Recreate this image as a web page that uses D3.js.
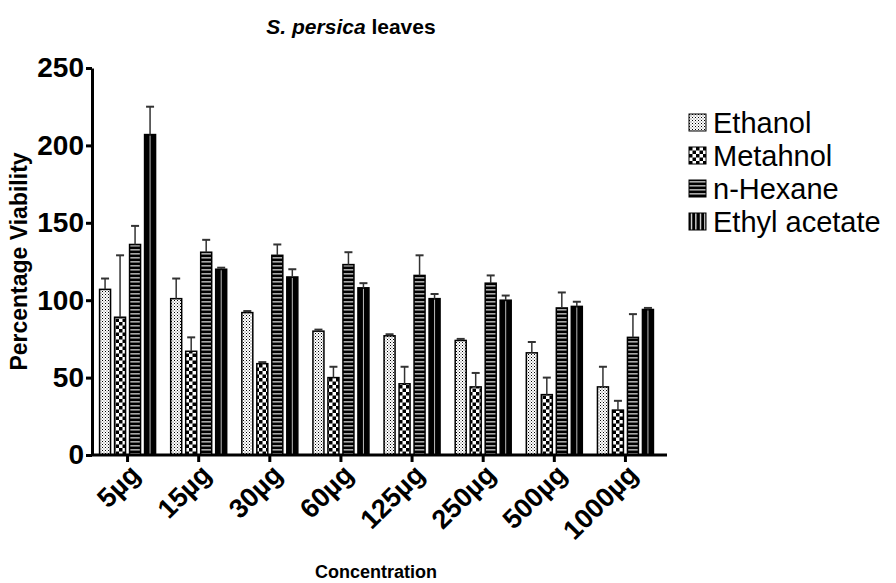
<!DOCTYPE html>
<html>
<head>
<meta charset="utf-8">
<script src="https://cdn.jsdelivr.net/npm/d3@7"></script>
<style>
  body { margin: 0; background: #fff; }
  text { font-family: "Liberation Sans", Arial, sans-serif; }
</style>
</head>
<body>
<svg id="viz" width="896" height="583"></svg>
<script>
const concentrations = ["5µg", "15µg", "30µg", "60µg", "125µg", "250µg", "500µg", "1000µg"];
const series = ["Ethanol", "Metahnol", "n-Hexane", "Ethyl acetate"];

// mean values per series (same order as concentrations)
const ethanol = [107, 101, 92, 80, 77, 74, 66, 44];
const metahnol = [89, 67, 59, 50, 46, 44, 39, 29];
const hexane = [136, 131, 129, 123, 116, 111, 95, 76];
const ethylAcetate = [207, 120, 115, 108, 101, 100, 96, 94];

// error (SD) above each bar
const ethanolErr = [7, 13, 1, 1, 1, 1, 7, 13];
const metahnolErr = [40, 9, 1, 7, 11, 9, 11, 6];
const hexaneErr = [12, 8, 7, 8, 13, 5, 10, 15];
const ethylAcetateErr = [18, 1, 5, 3, 3, 3, 3, 1];

const yTicks = [0, 50, 100, 150, 200, 250];

const values = [ethanol, metahnol, hexane, ethylAcetate];
const errors = [ethanolErr, metahnolErr, hexaneErr, ethylAcetateErr];

const rows = [];
concentrations.forEach((c, i) => {
  series.forEach((s, j) => {
    rows.push({ conc: c, series: s, si: j, value: values[j][i], err: errors[j][i] });
  });
});

const svg = d3.select("#viz");

// fill patterns
const defs = svg.append("defs");

const pDots = defs.append("pattern").attr("id", "p0").attr("patternUnits", "userSpaceOnUse")
  .attr("width", 3).attr("height", 3);
pDots.append("rect").attr("width", 3).attr("height", 3).attr("fill", "#fff");
pDots.append("rect").attr("x", 0).attr("y", 0).attr("width", 1).attr("height", 1).attr("fill", "#000");
pDots.append("rect").attr("x", 1.5).attr("y", 1.5).attr("width", 1).attr("height", 1).attr("fill", "#555");

const pCheck = defs.append("pattern").attr("id", "p1").attr("patternUnits", "userSpaceOnUse")
  .attr("width", 7).attr("height", 7);
pCheck.append("rect").attr("width", 7).attr("height", 7).attr("fill", "#fff");
pCheck.append("rect").attr("x", 0).attr("y", 0).attr("width", 3.5).attr("height", 3.5).attr("fill", "#000");
pCheck.append("rect").attr("x", 3.5).attr("y", 3.5).attr("width", 3.5).attr("height", 3.5).attr("fill", "#000");

const pHoriz = defs.append("pattern").attr("id", "p2").attr("patternUnits", "userSpaceOnUse")
  .attr("width", 4).attr("height", 4);
pHoriz.append("rect").attr("width", 4).attr("height", 4).attr("fill", "#000");
pHoriz.append("rect").attr("y", 1).attr("width", 4).attr("height", 1.6).attr("fill", "#a8a8a8");

const pVert = defs.append("pattern").attr("id", "p3").attr("patternUnits", "userSpaceOnUse")
  .attr("width", 4.5).attr("height", 4);
pVert.append("rect").attr("width", 4.5).attr("height", 4).attr("fill", "#000");
pVert.append("rect").attr("x", 1.8).attr("width", 1.2).attr("height", 4).attr("fill", "#fff");

const x = d3.scaleBand().domain(concentrations).range([92, 661]).paddingInner(0).paddingOuter(0);
const xSub = d3.scaleBand().domain(series).range([0, 56]).paddingInner(4 / 15).paddingOuter(0);
const y = d3.scaleLinear().domain([0, 250]).range([455, 68]);

const groupStart = c => x(c) + x.bandwidth() / 2 - 28;

// bars
const bars = svg.append("g");
bars.selectAll("rect.bar")
  .data(rows)
  .enter()
  .append("rect")
  .attr("class", "bar")
  .attr("x", d => groupStart(d.conc) + xSub(d.series))
  .attr("y", d => y(d.value))
  .attr("width", xSub.bandwidth())
  .attr("height", d => y(0) - y(d.value))
  .attr("fill", d => d.si === 3 ? "#000" : `url(#p${d.si})`)
  .attr("stroke", "#000")
  .attr("stroke-width", 1.5);

// thin light line down the middle of the ethyl acetate bars
bars.selectAll("line.mid")
  .data(rows.filter(d => d.si === 3))
  .enter()
  .append("line")
  .attr("class", "mid")
  .attr("x1", d => groupStart(d.conc) + xSub(d.series) + xSub.bandwidth() / 2)
  .attr("x2", d => groupStart(d.conc) + xSub(d.series) + xSub.bandwidth() / 2)
  .attr("y1", d => y(d.value) + 1)
  .attr("y2", y(0))
  .attr("stroke", "#bbb")
  .attr("stroke-width", 1);

// error bars (upper only)
const errG = svg.append("g").attr("stroke", "#333").attr("stroke-width", 1.5);
errG.selectAll("line.err")
  .data(rows)
  .enter()
  .append("line")
  .attr("x1", d => groupStart(d.conc) + xSub(d.series) + xSub.bandwidth() / 2)
  .attr("x2", d => groupStart(d.conc) + xSub(d.series) + xSub.bandwidth() / 2)
  .attr("y1", d => y(d.value))
  .attr("y2", d => y(d.value + d.err));
errG.selectAll("line.cap")
  .data(rows)
  .enter()
  .append("line")
  .attr("x1", d => groupStart(d.conc) + xSub(d.series) + xSub.bandwidth() / 2 - 4)
  .attr("x2", d => groupStart(d.conc) + xSub(d.series) + xSub.bandwidth() / 2 + 4)
  .attr("y1", d => y(d.value + d.err))
  .attr("y2", d => y(d.value + d.err))
  .attr("stroke-width", 2);

// y axis
const yAxis = svg.append("g")
  .attr("transform", `translate(${x.range()[0]},0)`)
  .call(d3.axisLeft(y).tickValues(yTicks).tickSize(6).tickSizeOuter(0).tickPadding(2));
yAxis.select(".domain").attr("stroke-width", 3);
yAxis.selectAll(".tick line").attr("stroke-width", 3);
yAxis.selectAll(".tick text")
  .attr("font-size", 28).attr("font-weight", "bold").attr("fill", "#000")
  .style("font-family", "'Liberation Sans', Arial, sans-serif");

// x axis
const xAxis = svg.append("g")
  .attr("transform", `translate(0,${y(0)})`)
  .call(d3.axisBottom(x).tickSize(7).tickSizeOuter(0).tickFormat(""));
xAxis.select(".domain").attr("d", `M${x.range()[0]},0H${x.range()[1] + 6}`).attr("stroke-width", 3);
xAxis.selectAll(".tick line").attr("stroke-width", 3);

svg.append("g").selectAll("text")
  .data(concentrations)
  .enter()
  .append("text")
  .attr("transform", d => `translate(${x(d) + x.bandwidth() / 2 + 14},${y(0) + 21}) rotate(-45)`)
  .attr("text-anchor", "end")
  .attr("font-size", 27)
  .attr("font-weight", "bold")
  .text(d => d);

// axis titles
svg.append("text")
  .attr("transform", `translate(27,${(y(0) + y(250)) / 2}) rotate(-90)`)
  .attr("text-anchor", "middle")
  .attr("font-size", 23)
  .attr("font-weight", "bold")
  .text("Percentage Viability");

svg.append("text")
  .attr("x", 376)
  .attr("y", 578)
  .attr("text-anchor", "middle")
  .attr("font-size", 18)
  .attr("font-weight", "bold")
  .text("Concentration");

const title = svg.append("text")
  .attr("x", 351)
  .attr("y", 34)
  .attr("text-anchor", "middle")
  .attr("font-size", 21)
  .attr("font-weight", "bold");
title.append("tspan").attr("font-style", "italic").text("S. persica");
title.append("tspan").text(" leaves");

// legend
const legend = svg.append("g").attr("transform", "translate(689,114)");
const li = legend.selectAll("g")
  .data(series)
  .enter()
  .append("g")
  .attr("transform", (d, i) => `translate(0,${i * 33})`);
li.append("rect")
  .attr("width", 17).attr("height", 17)
  .attr("fill", (d, i) => `url(#p${i})`)
  .attr("stroke", "#000").attr("stroke-width", 1);
li.append("text")
  .attr("x", 24).attr("y", 9).attr("dy", "0.36em")
  .attr("font-size", 29)
  .text(d => d);
</script>
</body>
</html>
